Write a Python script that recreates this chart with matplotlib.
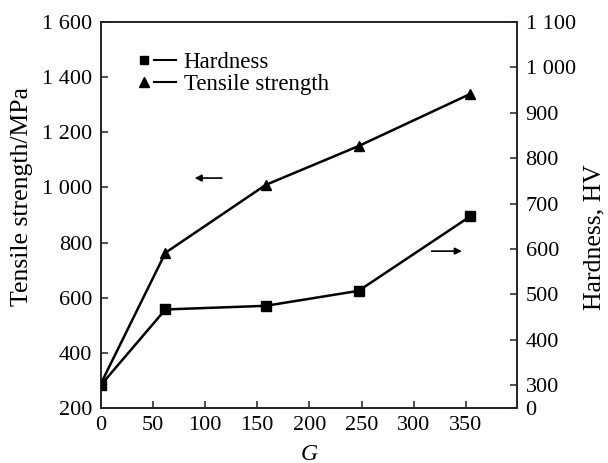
import matplotlib
matplotlib.use('Agg')
import matplotlib.pyplot as plt
from matplotlib.lines import Line2D
from matplotlib.legend_handler import HandlerTuple

# data
g_values = [0, 62, 158, 247, 354]
tensile = [287, 763, 1009, 1150, 1339]
hardness = [300, 467, 475, 508, 672]

x_ticks = [0, 50, 100, 150, 200, 250, 300, 350]
left_ticks = [200, 400, 600, 800, 1000, 1200, 1400, 1600]
left_labels = ['200', '400', '600', '800', '1 000', '1 200', '1 400', '1 600']
right_ticks = [250, 300, 400, 500, 600, 700, 800, 900, 1000, 1100]
right_labels = ['0', '300', '400', '500', '600', '700', '800', '900', '1 000', '1 100']

plt.rcParams['font.family'] = ['Liberation Serif', 'DejaVu Serif']
tick_fs = 16
leg_fs = 16.5
lab_fs = 18.5
edge = '#222222'

fig = plt.figure(figsize=(6.08, 4.63), dpi=100)
ax = fig.add_axes([100.7 / 608, 1 - 408 / 463, 416.5 / 608, 386 / 463])
ax2 = ax.twinx()

ax.plot(g_values, tensile, color='black', lw=1.8, marker='^', ms=7, zorder=3)
ax2.plot(g_values, hardness, color='black', lw=1.8, marker='s', ms=6.5, zorder=3)

ax.set_xlim(0, 399)
ax.set_ylim(200, 1600)
ax2.set_ylim(250, 1100)

ax.set_xticks(x_ticks)
ax.set_xticklabels([str(v) for v in x_ticks])
ax.set_yticks(left_ticks)
ax.set_yticklabels(left_labels)
ax2.set_yticks(right_ticks)
ax2.set_yticklabels(right_labels)

ax.tick_params(axis='both', direction='in', length=5, width=1.1, color=edge,
               labelsize=tick_fs, pad=6, top=False, right=False)
ax2.tick_params(axis='y', direction='in', length=5, width=1.1, color=edge,
                labelsize=tick_fs, pad=6)
for a in (ax, ax2):
    for s in a.spines.values():
        s.set_color(edge)
        s.set_linewidth(1.2)

ax.set_xlabel('G', fontsize=tick_fs + 1, style='italic')
ax.xaxis.set_label_coords(0.5, -0.092)
ax.set_ylabel('Tensile strength/MPa', fontsize=lab_fs)
ax.yaxis.set_label_coords(-0.163, 0.547)
ax2.set_ylabel('Hardness, HV', fontsize=lab_fs)
ax2.yaxis.set_label_coords(1.158, 0.443)

# direction arrows
ax.annotate('', xy=(90, 1034), xytext=(116, 1034),
            arrowprops=dict(arrowstyle='-|>', color='black', lw=1.2,
                            mutation_scale=10, shrinkA=0, shrinkB=0))
ax.annotate('', xy=(346, 769), xytext=(317, 769),
            arrowprops=dict(arrowstyle='-|>', color='black', lw=1.2,
                            mutation_scale=10, shrinkA=0, shrinkB=0))

mk_h = Line2D([], [], color='black', marker='s', ms=6, ls='none')
ln_h = Line2D([], [], color='black', lw=1.5)
mk_t = Line2D([], [], color='black', marker='^', ms=6.5, ls='none')
ln_t = Line2D([], [], color='black', lw=1.5)
ax.legend([(mk_h, ln_h), (mk_t, ln_t)], ['Hardness', 'Tensile strength'],
          handler_map={tuple: HandlerTuple(ndivide=None, pad=0.0)},
          loc='upper left', bbox_to_anchor=(0.078, 0.922), frameon=False,
          fontsize=leg_fs, handlelength=1.85, handletextpad=0.35,
          labelspacing=0.05, borderpad=0, borderaxespad=0)

fig.savefig('out.png', dpi=100)
